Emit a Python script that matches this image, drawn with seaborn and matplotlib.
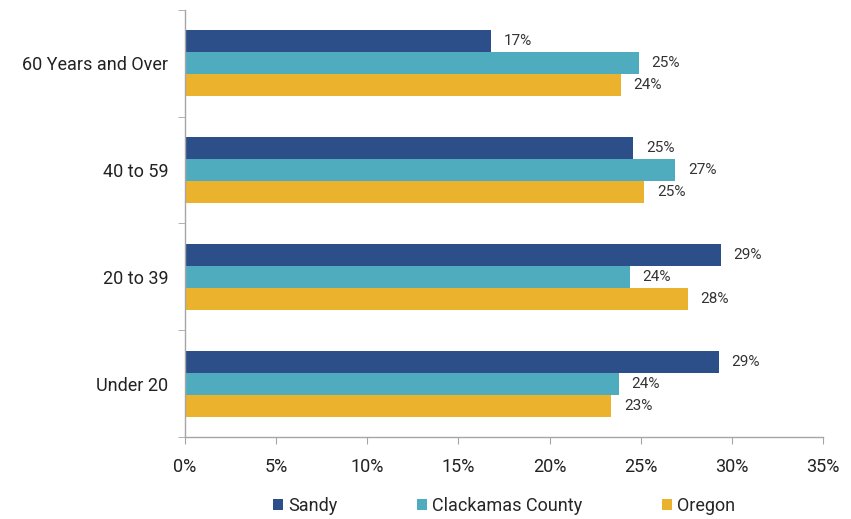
import numpy as np
import pandas as pd
import seaborn as sns
import matplotlib.pyplot as plt
from matplotlib.ticker import FixedLocator, PercentFormatter

# age groups, top to bottom
age_groups = ["60 Years and Over", "40 to 59", "20 to 39", "Under 20"]
areas = ["Sandy", "Clackamas County", "Oregon"]

sandy = [16.8, 24.6, 29.4, 29.3]
clackamas = [24.9, 26.9, 24.4, 23.8]
oregon = [23.9, 25.2, 27.6, 23.4]

colors = ["#2C4F8A", "#4FACBE", "#EAB22D"]

rows = []
for area, vals in zip(areas, [sandy, clackamas, oregon]):
    for grp, v in zip(age_groups, vals):
        rows.append({"Age": grp, "Area": area, "Share": v})
df = pd.DataFrame(rows)

sns.set_style("white")
plt.rcParams["font.family"] = ["Liberation Sans Narrow", "Roboto", "DejaVu Sans"]

fig = plt.figure(figsize=(8.51, 5.19), dpi=100)
ax = fig.add_axes([0.2174, 0.158, 0.7496, 0.823])

sns.barplot(data=df, y="Age", x="Share", hue="Area", order=age_groups,
            hue_order=areas, palette=colors, orient="h", width=0.62,
            saturation=1, linewidth=0, ax=ax, legend=True)

for cont in ax.containers:
    vals = cont.datavalues
    ax.bar_label(cont, labels=[f"{round(v):.0f}%" for v in vals],
                 padding=9, fontsize=11, color="#333333")

ax.set_xlim(0, 35)
ax.set_ylim(3.5, -0.5)
ax.set_xticks(np.arange(0, 36, 5))
ax.xaxis.set_major_formatter(PercentFormatter(decimals=0))
ax.set_xlabel("")
ax.set_ylabel("")

for s in ["top", "right"]:
    ax.spines[s].set_visible(False)
for s in ["left", "bottom"]:
    ax.spines[s].set_color("#A6A6A6")
    ax.spines[s].set_linewidth(1)

ax.tick_params(axis="x", which="major", length=5, color="#A6A6A6",
               labelsize=13, labelcolor="#222222", bottom=True, pad=10)
ax.tick_params(axis="y", which="major", length=0, labelsize=13,
               labelcolor="#222222", pad=12)
ax.yaxis.set_minor_locator(FixedLocator([-0.5, 0.5, 1.5, 2.5, 3.5]))
ax.tick_params(axis="y", which="minor", length=5, color="#A6A6A6", left=True)

handles, labels = ax.get_legend_handles_labels()
ax.legend(handles, labels, loc="center", bbox_to_anchor=(0.5, -0.162),
          ncol=3, frameon=False, fontsize=13, handlelength=0.55,
          handleheight=0.55, handletextpad=0.3, columnspacing=4.4)

fig.savefig("out.png", dpi=100)
